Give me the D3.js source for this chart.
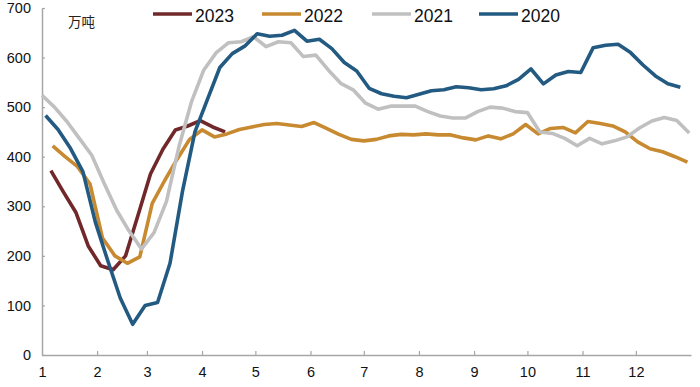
<!DOCTYPE html>
<html>
<head>
<meta charset="utf-8">
<script src="https://cdn.jsdelivr.net/npm/d3@7"></script>
<style>
  html, body { margin: 0; padding: 0; background: #fff; }
  svg { display: block; }
</style>
</head>
<body>
<svg id="chart" width="700" height="387"></svg>
<script>
// ---- data ----
const seriesNames = ["2023", "2022", "2021", "2020"];
const seriesStart = ["2023-01-06", "2022-01-07", "2021-01-01", "2020-01-03"]; // weekly (Fridays)
const seriesColors = ["#70282A", "#C88A30", "#C0C0C0", "#235A82"];

const v2023 = [372, 329, 288, 220, 180, 172, 200, 282, 365, 415, 454, 462, 473, 460, 450];
const v2022 = [422, 400, 380, 345, 236, 200, 185, 198, 306, 352, 395, 435, 454, 440, 446, 455,
  460, 465, 467, 464, 461, 469, 457, 445, 435, 432, 435, 442, 445, 444, 446, 444, 444, 438, 434,
  442, 436, 446, 465, 446, 457, 459, 448, 471, 467, 462, 450, 430, 416, 410, 400, 389];
const v2021 = [524, 500, 471, 437, 403, 346, 292, 250, 214, 247, 310, 420, 510, 575, 610, 630,
  632, 642, 622, 632, 630, 602, 605, 575, 548, 535, 508, 496, 502, 502, 502, 491, 482, 478, 478,
  491, 500, 498, 491, 489, 450, 447, 437, 422, 437, 426, 432, 440, 458, 472, 479, 473, 448];
const v2020 = [483, 455, 417, 370, 268, 190, 115, 62, 100, 106, 185, 330, 450, 515, 580, 608,
  623, 648, 643, 645, 655, 633, 637, 618, 590, 573, 538, 527, 522, 519, 526, 533, 535, 541, 539,
  535, 537, 543, 556, 577, 547, 565, 572, 570, 620, 625, 627, 610, 585, 563, 547, 540];
const seriesValues = [v2023, v2022, v2021, v2020];

const yTicks = [0, 100, 200, 300, 400, 500, 600, 700];
const monthStartDays = [0, 31, 59, 90, 120, 151, 181, 212, 243, 273, 304, 334];
const monthLabels = ["1", "2", "3", "4", "5", "6", "7", "8", "9", "10", "11", "12"];
const unitLabel = "万吨";

// ---- layout ----
const svg = d3.select("#chart");
const axisColor = "#A6A6A6";
const x = d3.scaleLinear().domain([0, 365]).range([42, 691]);
const y = d3.scaleLinear().domain([0, 700]).range([355, 8]);

const DAY = 86400000;
function dayOfYear(d) {
  return Math.round((d - new Date(Date.UTC(d.getUTCFullYear(), 0, 1))) / DAY);
}

// axes
const yAxis = svg.append("g").attr("transform", "translate(42,0)")
  .call(d3.axisLeft(y).tickValues(yTicks).tickSizeInner(-3).tickSizeOuter(0).tickPadding(11));
const xAxis = svg.append("g").attr("transform", "translate(0,355)")
  .call(d3.axisBottom(x).tickValues(monthStartDays).tickFormat((d, i) => monthLabels[i])
    .tickSizeInner(-4).tickSizeOuter(0).tickPadding(12));
[yAxis, xAxis].forEach(g => {
  g.select(".domain").attr("stroke", axisColor).attr("stroke-width", 1.5);
  g.selectAll(".tick line").attr("stroke", axisColor).attr("stroke-width", 1.2);
  g.selectAll("text").attr("fill", "#111").attr("font-family", "'Liberation Sans', Arial, sans-serif")
    .attr("font-size", "14.5px");
});
xAxis.selectAll(".tick").filter(d => d === 0).select("line").remove();
xAxis.selectAll("text").attr("dy", "0.71em");

// unit label
svg.append("text").attr("x", 68).attr("y", 27)
  .attr("font-family", "'Noto Sans CJK SC', sans-serif").attr("font-size", "13.5px")
  .attr("fill", "#222").text(unitLabel);

// lines
const line = d3.line().x(d => x(d.day)).y(d => y(d.value)).curve(d3.curveLinear);
seriesNames.forEach((name, si) => {
  const start = new Date(seriesStart[si] + "T00:00:00Z");
  const pts = seriesValues[si].map((v, i) => {
    const dt = new Date(start.getTime() + i * 7 * DAY);
    return { day: dayOfYear(dt), value: v };
  });
  svg.append("path").datum(pts)
    .attr("fill", "none").attr("stroke", seriesColors[si]).attr("stroke-width", 3.6)
    .attr("stroke-linejoin", "round").attr("stroke-linecap", "butt")
    .attr("d", line);
});

// legend
const legendX = [153, 262, 372, 479];
const legend = svg.append("g");
seriesNames.forEach((name, si) => {
  const g = legend.append("g").attr("transform", `translate(${legendX[si]},14)`);
  g.append("line").attr("x1", 0).attr("x2", 39).attr("y1", 0).attr("y2", 0)
    .attr("stroke", seriesColors[si]).attr("stroke-width", 3.6);
  g.append("text").attr("x", 42).attr("y", 7.5)
    .attr("font-family", "'Liberation Sans', Arial, sans-serif").attr("font-size", "17.5px")
    .attr("fill", "#111").text(name);
});
</script>
</body>
</html>
